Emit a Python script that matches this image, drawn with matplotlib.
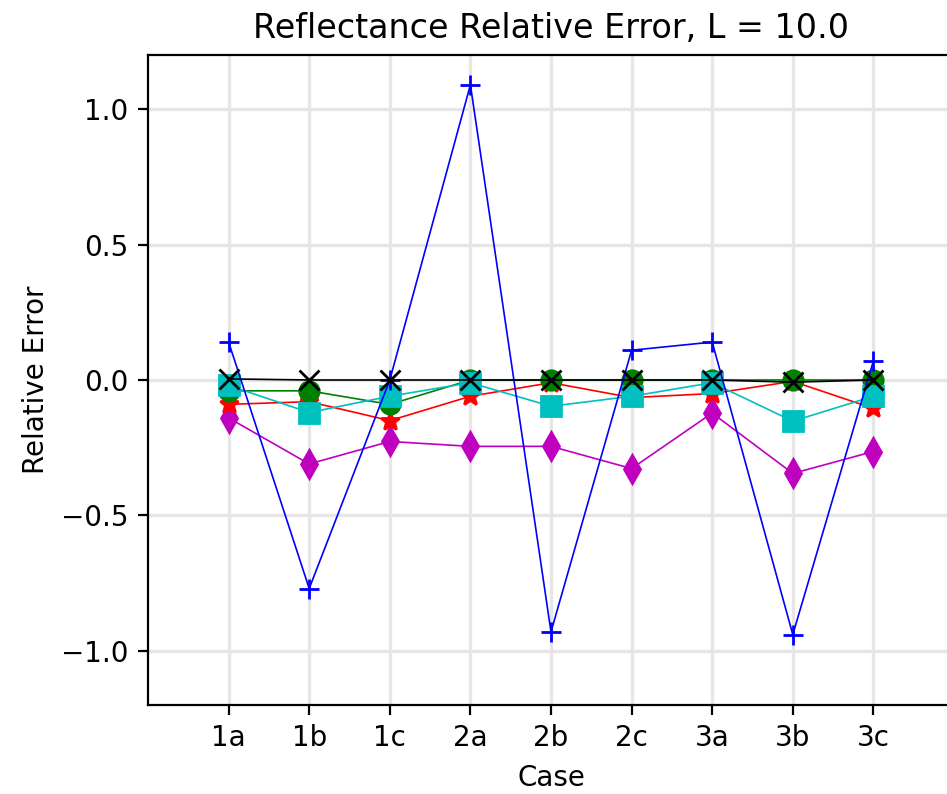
import matplotlib
matplotlib.use('Agg')
import matplotlib.pyplot as plt

cases = ['1a', '1b', '1c', '2a', '2b', '2c', '3a', '3b', '3c']

err_blue = [0.14, -0.77, 0.0, 1.09, -0.93, 0.11, 0.14, -0.94, 0.07]
err_red = [-0.09, -0.08, -0.15, -0.06, -0.01, -0.065, -0.05, -0.005, -0.105]
err_green = [-0.04, -0.04, -0.09, 0.0, 0.0, 0.0, 0.0, 0.0, 0.0]
err_cyan = [-0.02, -0.12, -0.06, -0.01, -0.097, -0.06, -0.01, -0.152, -0.06]
err_black = [0.004, 0.0, 0.0, 0.0, 0.0, 0.0, 0.0, -0.008, 0.0]
err_magenta = [-0.14, -0.31, -0.227, -0.245, -0.245, -0.327, -0.122, -0.345, -0.264]

x = list(range(len(cases)))

fig = plt.figure(figsize=(9.47 / 2, 7.94 / 2), dpi=200)
ax = fig.add_axes([148 / 947, 1 - 705 / 794, (954 - 148) / 947, (705 - 55) / 794])

ax.grid(True, color='0.9', lw=1.2, zorder=0)
ax.axhline(0, color='k', ls='--', lw=0.5, zorder=1)

ax.plot(x, err_magenta, 'm-d', lw=0.6, ms=7, zorder=2)
ax.plot(x, err_red, 'r-*', lw=0.6, ms=7, zorder=3)
ax.plot(x, err_green, 'g-o', lw=0.6, ms=7, zorder=4)
ax.plot(x, err_cyan, 'c-s', lw=0.6, ms=7, zorder=5)
ax.plot(x, err_blue, 'b-+', lw=0.6, ms=7, zorder=6)
ax.plot(x, err_black, 'k-x', lw=0.6, ms=7, zorder=7)

ax.set_xlim(-1, 9)
ax.set_ylim(-1.2, 1.2)
ax.set_xticks(x)
ax.set_xticklabels(cases)
ax.set_yticks([-1.0, -0.5, 0.0, 0.5, 1.0])
ax.set_xlabel('Case')
ax.set_ylabel('Relative Error')
ax.set_title('Reflectance Relative Error, L = 10.0')

fig.savefig('out.png', dpi=200)
